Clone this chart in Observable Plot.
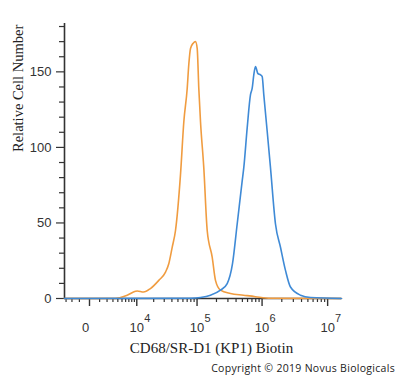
<!DOCTYPE html>
<html>
<head>
<meta charset="utf-8">
<script src="https://cdn.jsdelivr.net/npm/d3@7"></script>
<script src="https://cdn.jsdelivr.net/npm/@observablehq/plot@0.6"></script>
<style>
  html, body { margin: 0; padding: 0; background: #fff; }
  #wrap { position: relative; width: 400px; height: 378px; overflow: hidden; }
  #caption { position: absolute; top: 361px; right: 5px; font-family: "Open Sans", sans-serif; font-size: 10.5px; letter-spacing: 0.3px; color: #222; white-space: nowrap; }
</style>
</head>
<body>
<div id="wrap"><div id="chart"></div><div id="caption"></div></div>
<script>
// ---- data ----
const orangeX = [-3300, 3500, 4620, 6470, 9450, 10200, 13300, 17600, 24400, 31500, 35600, 40500, 45700, 54900, 62000, 70100, 74300, 79000, 87100, 94600, 100500, 106500, 113200, 127300, 143800, 171800, 193100, 230600, 328500, 519900, 793400, 1344000, 16270000];
const orangeY = [0, 0, 0.7, 2.2, 4.8, 5, 4.3, 6.6, 12, 17.5, 23, 34, 45, 82, 117, 139, 155, 165.5, 169, 170, 165.5, 139, 117, 86.6, 45, 27.4, 12, 5.5, 3.3, 2.2, 1.2, 0.2, 0];
const blueX = [-3300, 80000, 113200, 161700, 230600, 292400, 352800, 416200, 496600, 525300, 592200, 665300, 706400, 747300, 793400, 860100, 945700, 1004000, 1062000, 1197000, 1344000, 1602000, 1910000, 2277000, 2714000, 3858000, 5483000, 16270000];
const blueY = [0, 0.2, 0.7, 2.2, 5.5, 9.9, 23, 49.3, 77.8, 86.6, 112.9, 134.9, 139.2, 148, 153.5, 149, 148, 146.9, 134.9, 110.7, 86.6, 49.3, 33.9, 18.6, 7.6, 2.2, 0.7, 0];

const xZero = [0];
const xZeroLabel = ["0"];
const xDecades = [1e4, 1e5, 1e6, 1e7];
const xDecadeBase = ["10", "10", "10", "10"];
const xDecadeExp = ["4", "5", "6", "7"];
const xMajor = [0, 1e4, 1e5, 1e6, 1e7];
const xMinor = [-3000, -2000, -1000, 1000, 2000, 3000, 4000, 5000, 6000, 7000, 8000, 9000,
  2e4, 3e4, 4e4, 5e4, 6e4, 7e4, 8e4, 9e4,
  2e5, 3e5, 4e5, 5e5, 6e5, 7e5, 8e5, 9e5,
  2e6, 3e6, 4e6, 5e6, 6e6, 7e6, 8e6, 9e6];
const yMajor = [0, 50, 100, 150];
const yMinor = [10, 20, 30, 40, 60, 70, 80, 90, 110, 120, 130, 140, 160, 170, 180];
const xDomain = [-3300, 16270000];
const yDomain = [0, 182];
const xTitle = "CD68/SR-D1 (KP1) Biotin";
const yTitle = "Relative Cell Number";
const captionText = "Copyright © 2019 Novus Biologicals";

const orange = orangeX.map((x, i) => ({x, y: orangeY[i]}));
const blue = blueX.map((x, i) => ({x, y: blueY[i]}));

const axisColor = "#333";
const W = 400, H = 356, mL = 64, mR = 59, mT = 23, mB = 58;
const frameH = H - mT - mB;

const chart = Plot.plot({
  width: W,
  height: H,
  marginLeft: mL,
  marginRight: mR,
  marginTop: mT,
  marginBottom: mB,
  style: {fontFamily: "'Liberation Sans', Arial, sans-serif", fontSize: "13px", background: "#fff"},
  x: {type: "symlog", constant: 2350, domain: xDomain, axis: null},
  y: {domain: yDomain, axis: null},
  marks: [
    // x ticks (drawn below the frame)
    Plot.ruleX(xMajor, {insetTop: frameH, insetBottom: -8, stroke: axisColor, strokeWidth: 1.4}),
    Plot.ruleX(xMinor, {insetTop: frameH, insetBottom: -4, stroke: axisColor, strokeWidth: 1.2}),
    // axis lines
    Plot.ruleX([xDomain[0]], {y1: yDomain[0], y2: yDomain[1], stroke: axisColor, strokeWidth: 1.6}),
    Plot.ruleY([0], {x1: xDomain[0], x2: xDomain[1], stroke: axisColor, strokeWidth: 1.6}),
    // y ticks
    Plot.axisY(yMajor, {anchor: "left", tickSize: 8, tickPadding: 5, stroke: axisColor, strokeWidth: 1.2, fontSize: 13, fill: "#333", label: null}),
    Plot.axisY(yMinor, {anchor: "left", tickSize: 5, tickFormat: () => "", stroke: axisColor, strokeWidth: 1.2, label: null}),
    // x tick labels
    Plot.text(xZero, {x: d => d, text: (d, i) => xZeroLabel[i], frameAnchor: "bottom", lineAnchor: "middle", dy: 29.5, dx: -4, fontSize: 13, fill: "#333"}),
    Plot.text(xDecades, {x: d => d, text: (d, i) => xDecadeBase[i], frameAnchor: "bottom", lineAnchor: "middle", dy: 29.5, fontSize: 13, fill: "#333"}),
    Plot.text(xDecades, {x: d => d, text: (d, i) => xDecadeExp[i], frameAnchor: "bottom", lineAnchor: "middle", dy: 20, dx: 10.5, fontSize: 11, fill: "#333"}),
    // curves
    Plot.line(orange, {x: "x", y: "y", stroke: "#F09C40", strokeWidth: 1.6, curve: "monotone-x"}),
    Plot.line(blue, {x: "x", y: "y", stroke: "#3F8AD6", strokeWidth: 1.6, curve: "monotone-x"}),
    // titles
    Plot.text([xTitle], {frameAnchor: "bottom", lineAnchor: "middle", dx: 8.5, dy: 50, fontSize: 15, fontFamily: "'Liberation Serif', 'Times New Roman', serif", fill: "#222"}),
    Plot.text([yTitle], {frameAnchor: "left", lineAnchor: "middle", rotate: -90, dx: -46.6, dy: -9, fontSize: 14.5, fontFamily: "'Liberation Serif', 'Times New Roman', serif", fill: "#222"})
  ]
});
document.getElementById("chart").appendChild(chart);
document.getElementById("caption").textContent = captionText;
</script>
</body>
</html>
